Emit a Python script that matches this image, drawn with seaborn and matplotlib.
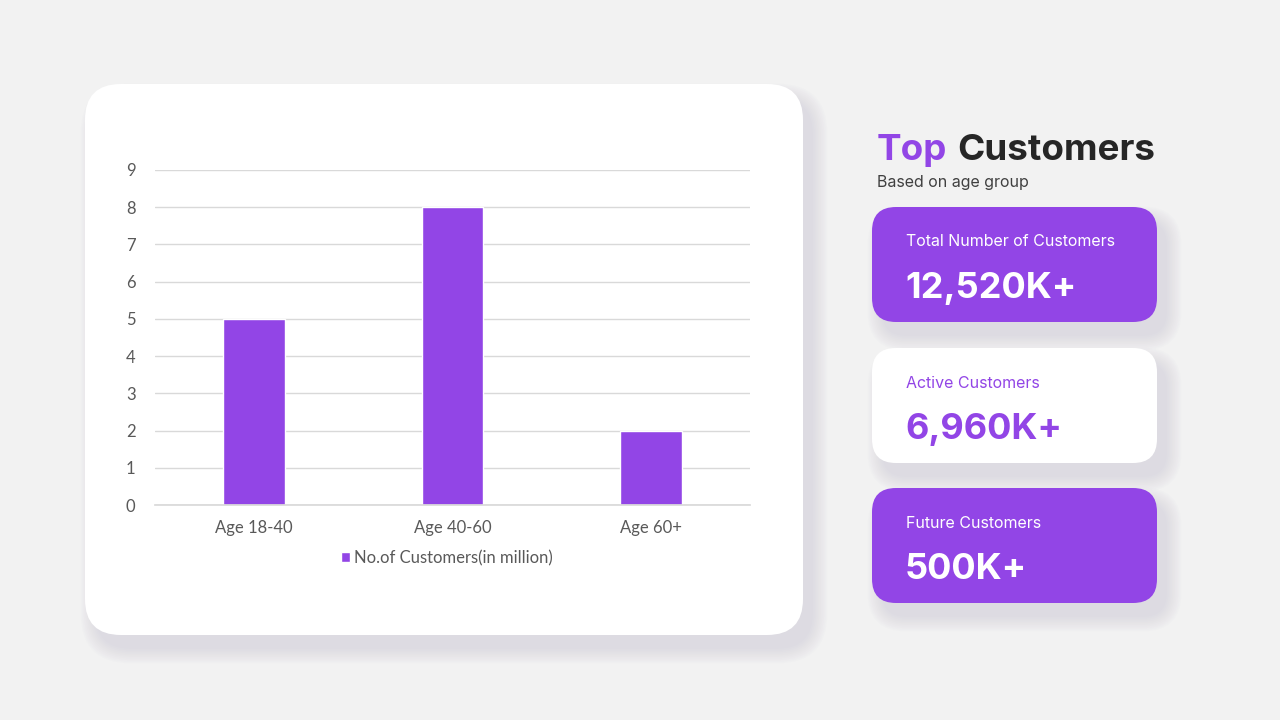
import matplotlib
matplotlib.use("Agg")
import matplotlib.pyplot as plt
from matplotlib.patches import FancyBboxPatch
import seaborn as sns
import pandas as pd

# data
age_groups = ["Age 18-40", "Age 40-60", "Age 60+"]
customers = [5, 8, 2]
series_name = "No.of Customers(in million)"
card_labels = ["Total Number of Customers", "Active Customers", "Future Customers"]
card_values = ["12,520K+", "6,960K+", "500K+"]

purple = "#9245E6"
bg = "#F2F2F2"

sns.set_theme(style="white")
plt.rcParams["font.family"] = ["Lato", "DejaVu Sans"]

fig = plt.figure(figsize=(12.8, 7.2), dpi=100)
fig.patch.set_facecolor(bg)

# background layer in pixel coordinates
bgax = fig.add_axes([0, 0, 1, 1], zorder=0)
bgax.set_xlim(0, 1280)
bgax.set_ylim(720, 0)
bgax.axis("off")


def card(x0, y0, x1, y1, r, color):
    # soft shadow, mostly below right
    for i in range(10):
        s = i * 1.6
        bgax.add_patch(FancyBboxPatch((x0 + 10 + r, y0 + 14 + r), x1 - x0 - 2 * r, y1 - y0 - 2 * r,
                                      boxstyle=f"round,pad={r + s},rounding_size={r + s}",
                                      fc="#B0ACC8", ec="none", alpha=0.03))
    bgax.add_patch(FancyBboxPatch((x0 + r, y0 + r), x1 - x0 - 2 * r, y1 - y0 - 2 * r,
                                  boxstyle=f"round,pad={r},rounding_size={r}",
                                  fc=color, ec="none"))


card(85, 84, 803, 635, 36, "white")
tops = [207, 348, 488]
for i, t in enumerate(tops):
    card(872, t, 1157, t + 115, 24, purple if i != 1 else "white")

# bar chart
ax = fig.add_axes([155 / 1280, 1 - 505 / 720, 595 / 1280, 335 / 720], zorder=2)
ax.patch.set_alpha(0)
df = pd.DataFrame({"group": age_groups, "value": customers, "series": series_name})
sns.barplot(data=df, x="group", y="value", hue="series", palette=[purple],
            width=0.31, saturation=1, ax=ax)
ax.set_xlim(-0.5, 2.5)
ax.set_ylim(0, 9)
ax.set_yticks(range(0, 10))
ax.yaxis.grid(True, color="#D9D9D9", lw=1)
ax.set_axisbelow(True)
for sp in ["top", "right", "left"]:
    ax.spines[sp].set_visible(False)
ax.spines["bottom"].set_color("#D9D9D9")
ax.set_xlabel("")
ax.set_ylabel("")
ax.tick_params(axis="both", length=0, labelsize=12, colors="#595959")
ax.tick_params(axis="y", pad=14)
ax.tick_params(axis="x", pad=11)
leg = ax.legend(loc="upper center", bbox_to_anchor=(0.49, -0.09), frameon=False,
                fontsize=12, handlelength=0.55, handleheight=0.55, handletextpad=0.25)
for t in leg.get_texts():
    t.set_color("#595959")

# right side text
head = ["Inter", "DejaVu Sans"]
tx = bgax.text(877, 160, "Top", color=purple, fontsize=26.5, fontweight="bold",
               va="baseline", family=head)
fig.canvas.draw()
bb = tx.get_window_extent()
bgax.text(877 + bb.width + 10, 160, "Customers", color="#262626", fontsize=26.5,
          fontweight="bold", va="baseline", family=head)
bgax.text(877, 182, "Based on age group", color="#404040", fontsize=11.5, va="center",
          family=["Inter", "DejaVu Sans"])

for i, t in enumerate(tops):
    fg = "white" if i != 1 else purple
    bgax.text(906, t + 35, card_labels[i], color=fg, fontsize=11.5, va="center",
              family=["Inter", "DejaVu Sans"])
    bgax.text(905, t + 91, card_values[i], color=fg, fontsize=26, fontweight="bold",
              va="baseline", family=head)

fig.savefig("out.png", dpi=100, facecolor=bg)
